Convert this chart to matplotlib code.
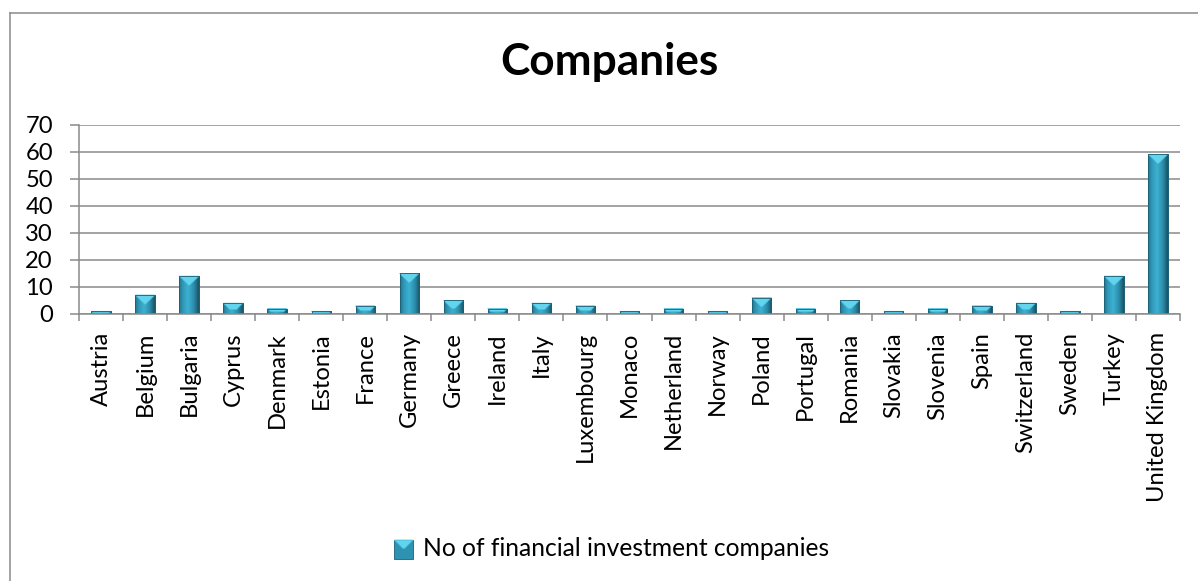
import numpy as np
import matplotlib
matplotlib.use("Agg")
import matplotlib.pyplot as plt
from matplotlib.patches import Rectangle, Polygon
from matplotlib.lines import Line2D
from matplotlib.legend_handler import HandlerBase
from matplotlib.colors import LinearSegmentedColormap

# ---- data -------------------------------------------------------------
countries = ["Austria", "Belgium", "Bulgaria", "Cyprus", "Denmark", "Estonia",
             "France", "Germany", "Greece", "Ireland", "Italy", "Luxembourg",
             "Monaco", "Netherland", "Norway", "Poland", "Portugal", "Romania",
             "Slovakia", "Slovenia", "Spain", "Switzerland", "Sweden", "Turkey",
             "United Kingdom"]
companies = [1, 7, 14, 4, 2, 1, 3, 15, 5, 2, 4, 3, 1, 2, 1, 6, 2, 5, 1, 2, 3, 4, 1, 14, 59]
series_name = "No of financial investment companies"
chart_title = "Companies"
y_ticks = [0, 10, 20, 30, 40, 50, 60, 70]

# ---- style ------------------------------------------------------------
FONT = "Lato"
GRID = "#8a8a8a"
BODY = "#2E93B3"
TOP = "#62D4EE"
TOP_EDGE = "#46BAD8"
OUTLINE = "#1C6075"
body_cmap = LinearSegmentedColormap.from_list(
    "bar_body",
    [(0.0, "#25738E"), (0.18, "#3096B6"), (0.45, "#3DB2D2"),
     (0.75, "#2D8DAC"), (1.0, "#185466")])

W, H, DPI = 1198, 581, 100
fig = plt.figure(figsize=(W / DPI, H / DPI), dpi=DPI)
fig.patch.set_facecolor("white")

ax_l, ax_r, ax_t, ax_b = 79, 1180, 124.7, 314
ax = fig.add_axes([ax_l / W, (H - ax_b) / H, (ax_r - ax_l) / W, (ax_b - ax_t) / H])

n = len(countries)
xpos = np.arange(n)
bw = 0.44

ax.set_xlim(-0.5, n - 0.5)
ax.set_ylim(0, 70)

# grid and axes
ax.set_yticks(y_ticks)
ax.yaxis.grid(True, color=GRID, linewidth=1.1)
ax.set_axisbelow(True)
for s in ("top", "right"):
    ax.spines[s].set_visible(False)
for s in ("left", "bottom"):
    ax.spines[s].set_color(GRID)
    ax.spines[s].set_linewidth(1.1)

px = 72 / DPI  # points per pixel
ax.tick_params(axis="y", length=9 * px, width=1.1, color=GRID, pad=17 * px,
               labelsize=14)
ax.set_xticks(xpos)
ax.set_xticklabels(countries, rotation=90, va="top", ha="center")
ax.tick_params(axis="x", which="major", length=0, pad=18 * px, labelsize=14)
ax.set_xticks(np.arange(n + 1) - 0.5, minor=True)
ax.tick_params(axis="x", which="minor", length=7 * px, width=1.1, color=GRID)

for lab in ax.get_xticklabels() + ax.get_yticklabels():
    lab.set_fontfamily(FONT)

# ---- bars -------------------------------------------------------------
bars = ax.bar(xpos, companies, width=bw, color=BODY, edgecolor=OUTLINE,
              linewidth=0.6, zorder=2)

sx = (ax_r - ax_l) / n        # pixels per category
sy = (ax_b - ax_t) / 70       # pixels per unit
grad = np.linspace(0, 1, 64).reshape(1, -1)
for rect, v in zip(bars, companies):
    x0 = rect.get_x()
    x1 = x0 + rect.get_width()
    img = ax.imshow(grad, cmap=body_cmap, extent=(x0, x1, 0, v), aspect="auto",
                    interpolation="bicubic", zorder=2.1)
    img.set_clip_path(rect)
    # bevelled top face
    w_px = rect.get_width() * sx
    h_px = v * sy
    d_px = min(w_px / 2 * 0.95, h_px * 0.6)
    dx = d_px / sx
    dy = d_px / sy
    top = Polygon([(x0, v), (x1, v), (x1 - dx, v - dy), (x0 + dx, v - dy)],
                  closed=True, facecolor=TOP, edgecolor=TOP_EDGE,
                  linewidth=0.5, zorder=2.2)
    ax.add_patch(top)
    ax.add_patch(Rectangle((x0, 0), x1 - x0, v, fill=False,
                           edgecolor=OUTLINE, linewidth=0.6, zorder=2.3))


# ---- legend -----------------------------------------------------------
class BevelHandler(HandlerBase):
    def create_artists(self, legend, orig_handle, xdescent, ydescent,
                       width, height, fontsize, trans):
        s = min(width, height)
        x0 = xdescent + (width - s) / 2
        y0 = -ydescent + (height - s) / 2
        body = Rectangle((x0, y0), s, s, facecolor=BODY, edgecolor=OUTLINE,
                         linewidth=0.6, transform=trans)
        d = s * 0.45
        tri = Polygon([(x0, y0 + s), (x0 + s, y0 + s), (x0 + s - d, y0 + s - d),
                       (x0 + d, y0 + s - d)], closed=True, facecolor=TOP,
                      edgecolor=TOP_EDGE, linewidth=0.5, transform=trans)
        return [body, tri]


leg = fig.legend([bars], [series_name], handler_map={type(bars): BevelHandler()},
                 loc="center", bbox_to_anchor=(611 / W, (H - 549) / H),
                 frameon=False, prop={"family": FONT, "size": 15},
                 handlelength=1.0, handleheight=1.0,
                 handletextpad=0.4, borderpad=0)

# ---- title --------------------------------------------------------------
title = fig.text(609 / W, (H - 75) / H, chart_title, ha="center",
                 va="baseline", fontfamily=FONT, fontweight="bold", fontsize=28)

# ---- outer chart border (left and top edges) ---------------------------
fig.add_artist(Line2D([10 / W, 10 / W], [0, (H - 12.5) / H], color=GRID,
                      linewidth=1.1, transform=fig.transFigure))
fig.add_artist(Line2D([10 / W, 1], [(H - 12.5) / H, (H - 12.5) / H], color=GRID,
                      linewidth=1.1, transform=fig.transFigure))

# fit text sizes to the intended extents
fig.canvas.draw()
r = fig.canvas.get_renderer()


def fit(texts, target, dim):
    t0 = texts[0]
    bb = t0.get_window_extent(r)
    cur = bb.width if dim == "w" else bb.height
    size = t0.get_fontsize() * target / cur
    for t in texts:
        t.set_fontsize(size)
    return size


uk = [t for t in ax.get_xticklabels() if t.get_text() == "United Kingdom"][0]
size = fit([uk], 171, "h")
for t in ax.get_xticklabels() + ax.get_yticklabels():
    t.set_fontsize(size)
fit([title], 218, "w")
fit(leg.get_texts(), 408, "w")

fig.savefig("out.png", dpi=DPI, facecolor="white")
